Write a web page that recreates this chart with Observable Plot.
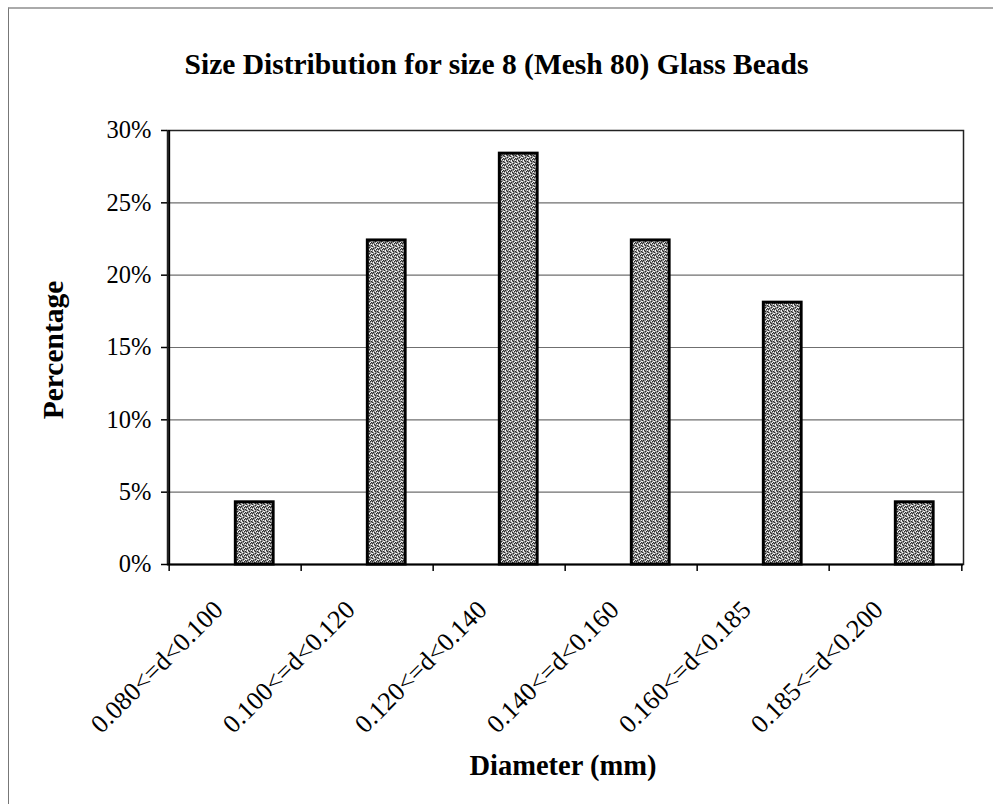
<!DOCTYPE html>
<html>
<head>
<meta charset="utf-8">
<script src="https://cdn.jsdelivr.net/npm/d3@7"></script>
<script src="https://cdn.jsdelivr.net/npm/@observablehq/plot@0.6"></script>
<style>
  html, body { margin: 0; padding: 0; background: #fff; }
  #wrap { position: relative; width: 993px; height: 804px; overflow: hidden; font-family: "Liberation Serif", "Times New Roman", serif; color: #000; }
  #wrap svg { position: absolute; left: 0; top: 0; }
  .border { position: absolute; left: 8px; top: 7px; width: 1000px; height: 800px; border-left: 1px solid #777; border-top: 2px solid #aaa; }
  .title { position: absolute; left: 0; width: 993px; top: 50px; text-align: center; font-weight: bold; font-size: 29.5px; line-height: 29px; }
  .xlab { position: absolute; left: 363px; width: 400px; top: 752px; text-align: center; font-weight: bold; font-size: 28.5px; line-height: 28px; }
  .ylab { position: absolute; left: 53px; top: 350px; transform: translate(-50%, -50%) rotate(-90deg); font-weight: bold; font-size: 29.5px; line-height: 29px; white-space: nowrap; }
</style>
</head>
<body>
<div id="wrap">
  <div class="border"></div>
</div>
<script>
const titleText = "Size Distribution for size 8 (Mesh 80) Glass Beads";
const xTitle = "Diameter (mm)";
const yTitle = "Percentage";
const categories = ["0.080<=d<0.100", "0.100<=d<0.120", "0.120<=d<0.140", "0.140<=d<0.160", "0.160<=d<0.185", "0.185<=d<0.200"];
const percentages = [4.3, 22.4, 28.4, 22.4, 18.1, 4.3];
const yTicks = [0, 5, 10, 15, 20, 25, 30];

const W = 993, H = 804, ML = 167, MR = 30, MT = 130, MB = 240;
const bw = (W - ML - MR) / categories.length;
const data = categories.map((c, i) => ({cat: c, pct: percentages[i]}));

const chart = Plot.plot({
  width: W, height: H,
  marginTop: MT, marginBottom: MB, marginLeft: ML, marginRight: MR,
  style: {fontFamily: "Liberation Serif, Times New Roman, serif", fontSize: "24px", color: "#000", background: "transparent"},
  x: {domain: categories, padding: 0, axis: null},
  y: {domain: [0, 30], axis: null},
  marks: [
    Plot.gridY(yTicks, {stroke: "#6f6f6f", strokeOpacity: 1, strokeWidth: 1.2}),
    Plot.frame({stroke: "#222", strokeWidth: 1.5}),
    Plot.barY(data, {x: "cat", y: "pct", fill: "url(#stipple)", stroke: "#000", strokeWidth: 3,
      insetLeft: bw * 0.5, insetRight: bw * 0.21}),
    Plot.ruleY([0], {stroke: "#000", strokeWidth: 2}),
    Plot.ruleX([categories[0]], {dx: -bw / 2, stroke: "#000", strokeWidth: 2}),
    Plot.axisY(yTicks, {tickSize: 6, tickPadding: 10, tickFormat: d => d + "%", fontSize: 24.5, stroke: "#000", strokeWidth: 1.5, label: null}),
    Plot.axisX(categories, {tickSize: 7, tickFormat: () => "", dx: -bw / 2, stroke: "#000", strokeWidth: 1.5, label: null}),
    Plot.axisX([categories[categories.length - 1]], {tickSize: 7, tickFormat: () => "", dx: bw / 2, stroke: "#000", strokeWidth: 1.5, label: null}),
    Plot.text(categories, {x: d => d, frameAnchor: "bottom", rotate: -45, textAnchor: "end", lineAnchor: "middle",
      dx: -17, dy: 41, fontSize: 26, fill: "#000"})
  ]
});

// stippled pattern
const ns = "http://www.w3.org/2000/svg";
const defs = document.createElementNS(ns, "defs");
const pat = document.createElementNS(ns, "pattern");
pat.setAttribute("id", "stipple");
pat.setAttribute("patternUnits", "userSpaceOnUse");
pat.setAttribute("width", "6");
pat.setAttribute("height", "6");
const bg = document.createElementNS(ns, "rect");
bg.setAttribute("width", "6"); bg.setAttribute("height", "6"); bg.setAttribute("fill", "#8e8e8e");
pat.appendChild(bg);
const dark = [[0,0],[3,1],[1,2],[4,3],[2,4],[5,5],[0,3],[3,5],[5,2]];
const light = [[2,0],[5,1],[0,1],[4,2],[1,4],[3,3],[5,4],[1,5]];
dark.forEach(([x, y]) => { const r = document.createElementNS(ns, "rect"); r.setAttribute("x", x); r.setAttribute("y", y); r.setAttribute("width", 1); r.setAttribute("height", 1); r.setAttribute("fill", "#2a2a2a"); pat.appendChild(r); });
light.forEach(([x, y]) => { const r = document.createElementNS(ns, "rect"); r.setAttribute("x", x); r.setAttribute("y", y); r.setAttribute("width", 1); r.setAttribute("height", 1); r.setAttribute("fill", "#f2f2f2"); pat.appendChild(r); });
defs.appendChild(pat);
chart.insertBefore(defs, chart.firstChild);

const wrap = document.getElementById("wrap");
wrap.appendChild(chart);
const t = document.createElement("div"); t.className = "title"; t.textContent = titleText; wrap.appendChild(t);
const xl = document.createElement("div"); xl.className = "xlab"; xl.textContent = xTitle; wrap.appendChild(xl);
const yl = document.createElement("div"); yl.className = "ylab"; yl.textContent = yTitle; wrap.appendChild(yl);
</script>
</body>
</html>
